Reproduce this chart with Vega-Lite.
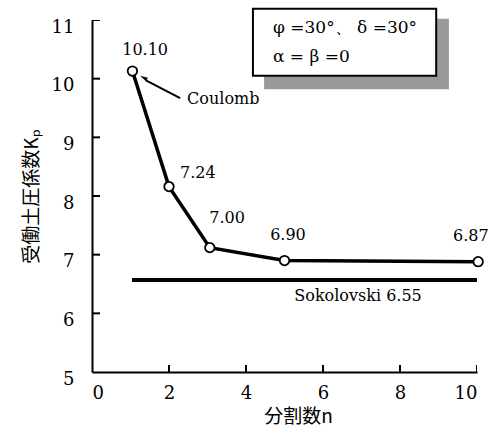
{
  "$schema": "https://vega.github.io/schema/vega-lite/v6.json",
  "width": 385,
  "height": 352,
  "autosize": {"type": "none"},
  "padding": {"left": 92, "top": 20, "right": 25, "bottom": 65},
  "background": "white",
  "config": {"view": {"stroke": null}},
  "datasets": {
    "pts": [
      {"x": 1.05, "y": 10.13},
      {"x": 2.0, "y": 8.16},
      {"x": 3.06, "y": 7.12},
      {"x": 5.0, "y": 6.9},
      {"x": 10.03, "y": 6.88}
    ],
    "labels": [
      {"x": 1.38, "y": 10.49, "label": "10.10"},
      {"x": 2.75, "y": 8.39, "label": "7.24"},
      {"x": 3.51, "y": 7.63, "label": "7.00"},
      {"x": 5.09, "y": 7.34, "label": "6.90"},
      {"x": 9.84, "y": 7.32, "label": "6.87"},
      {"x": 6.91, "y": 6.3, "label": "Sokolovski 6.55"}
    ]
  },
  "encoding": {
    "x": {
      "field": "x",
      "type": "quantitative",
      "scale": {"domain": [0, 10], "nice": false, "zero": false},
      "axis": {"title": "分割数n", "values": [0, 2, 4, 6, 8, 10], "titleX": 206, "grid": false, "ticks": false, "domainColor": "black", "domainWidth": 2, "labelPadding": 12, "labelFont": "DejaVu Serif", "labelFontSize": 18, "labelColor": "black", "titleFont": "Noto Sans CJK JP", "titleFontSize": 19, "titleFontWeight": "normal", "titleColor": "black", "titlePadding": 5}
    },
    "y": {
      "field": "y",
      "type": "quantitative",
      "scale": {"domain": [5, 11], "nice": false, "zero": false},
      "axis": {"title": "受働土圧係数Kₚ", "values": [5, 6, 7, 8, 9, 10, 11], "format": "d", "labelOffset": 7, "grid": false, "ticks": false, "domainColor": "black", "domainWidth": 2, "labelPadding": 18, "labelFont": "DejaVu Serif", "labelFontSize": 18, "labelColor": "black", "titleFont": "Noto Sans CJK JP", "titleFontSize": 19, "titleFontWeight": "normal", "titleColor": "black", "titlePadding": 10}
    }
  },
  "layer": [
    {
      "data": {"values": [{"x": 4.47, "x2": 9.27, "y": 11.02, "y2": 9.82}]},
      "mark": {"type": "rect", "color": "#999999"},
      "encoding": {"x2": {"field": "x2"}, "y2": {"field": "y2"}}
    },
    {
      "data": {"values": [{"x": 4.18, "x2": 8.94, "y": 11.19, "y2": 10.05}]},
      "mark": {"type": "rect", "fill": "white", "stroke": "black", "strokeWidth": 2},
      "encoding": {"x2": {"field": "x2"}, "y2": {"field": "y2"}}
    },
    {
      "data": {"values": [
        {"x": 4.7, "y": 10.86, "label": "φ =30°、 δ =30°"},
        {"x": 4.7, "y": 10.37, "label": "α = β =0"}
      ]},
      "mark": {"type": "text", "align": "left", "baseline": "middle", "font": "DejaVu Serif", "fontSize": 17, "color": "black"},
      "encoding": {"text": {"field": "label"}}
    },
    {
      "data": {"values": [{"x": 2, "y": 5}, {"x": 4, "y": 5}, {"x": 6, "y": 5}, {"x": 8, "y": 5}, {"x": 10, "y": 5}]},
      "mark": {"type": "tick", "orient": "vertical", "size": 14, "thickness": 2, "color": "black", "opacity": 1, "clip": true},
      "encoding": {}
    },
    {
      "data": {"values": [{"x": 0, "y": 6}, {"x": 0, "y": 7}, {"x": 0, "y": 8}, {"x": 0, "y": 9}, {"x": 0, "y": 10}, {"x": 0, "y": 11}]},
      "mark": {"type": "tick", "orient": "horizontal", "size": 16, "thickness": 2, "color": "black", "opacity": 1, "clip": true},
      "encoding": {}
    },
    {
      "data": {"values": [{"x": 1.04, "x2": 10.0, "y": 6.57}]},
      "mark": {"type": "rule", "color": "black", "strokeWidth": 4},
      "encoding": {"x2": {"field": "x2"}}
    },
    {
      "data": {"name": "pts"},
      "mark": {"type": "line", "color": "black", "strokeWidth": 3.5},
      "encoding": {}
    },
    {
      "data": {"name": "pts"},
      "mark": {"type": "point", "filled": true, "fill": "white", "stroke": "black", "strokeWidth": 1.8, "size": 90, "opacity": 1},
      "encoding": {}
    },
    {
      "data": {"name": "labels"},
      "mark": {"type": "text", "align": "center", "baseline": "middle", "font": "DejaVu Serif", "fontSize": 16, "color": "black"},
      "encoding": {"text": {"field": "label"}}
    },
    {
      "data": {"values": [{"x": 2.29, "y": 9.67, "x2": 1.4, "y2": 9.97}]},
      "mark": {"type": "rule", "color": "black", "strokeWidth": 2},
      "encoding": {"x2": {"field": "x2"}, "y2": {"field": "y2"}}
    },
    {
      "data": {"values": [{"x": 1.25, "y": 10.05}]},
      "mark": {"type": "point", "shape": "M0,0L0.55,2.2L-0.55,2.2Z", "filled": true, "color": "black", "size": 50, "angle": 299, "opacity": 1},
      "encoding": {}
    },
    {
      "data": {"values": [{"x": 2.47, "y": 9.65, "label": "Coulomb"}]},
      "mark": {"type": "text", "align": "left", "baseline": "middle", "font": "DejaVu Serif", "fontSize": 16, "color": "black"},
      "encoding": {"text": {"field": "label"}}
    }
  ]
}
